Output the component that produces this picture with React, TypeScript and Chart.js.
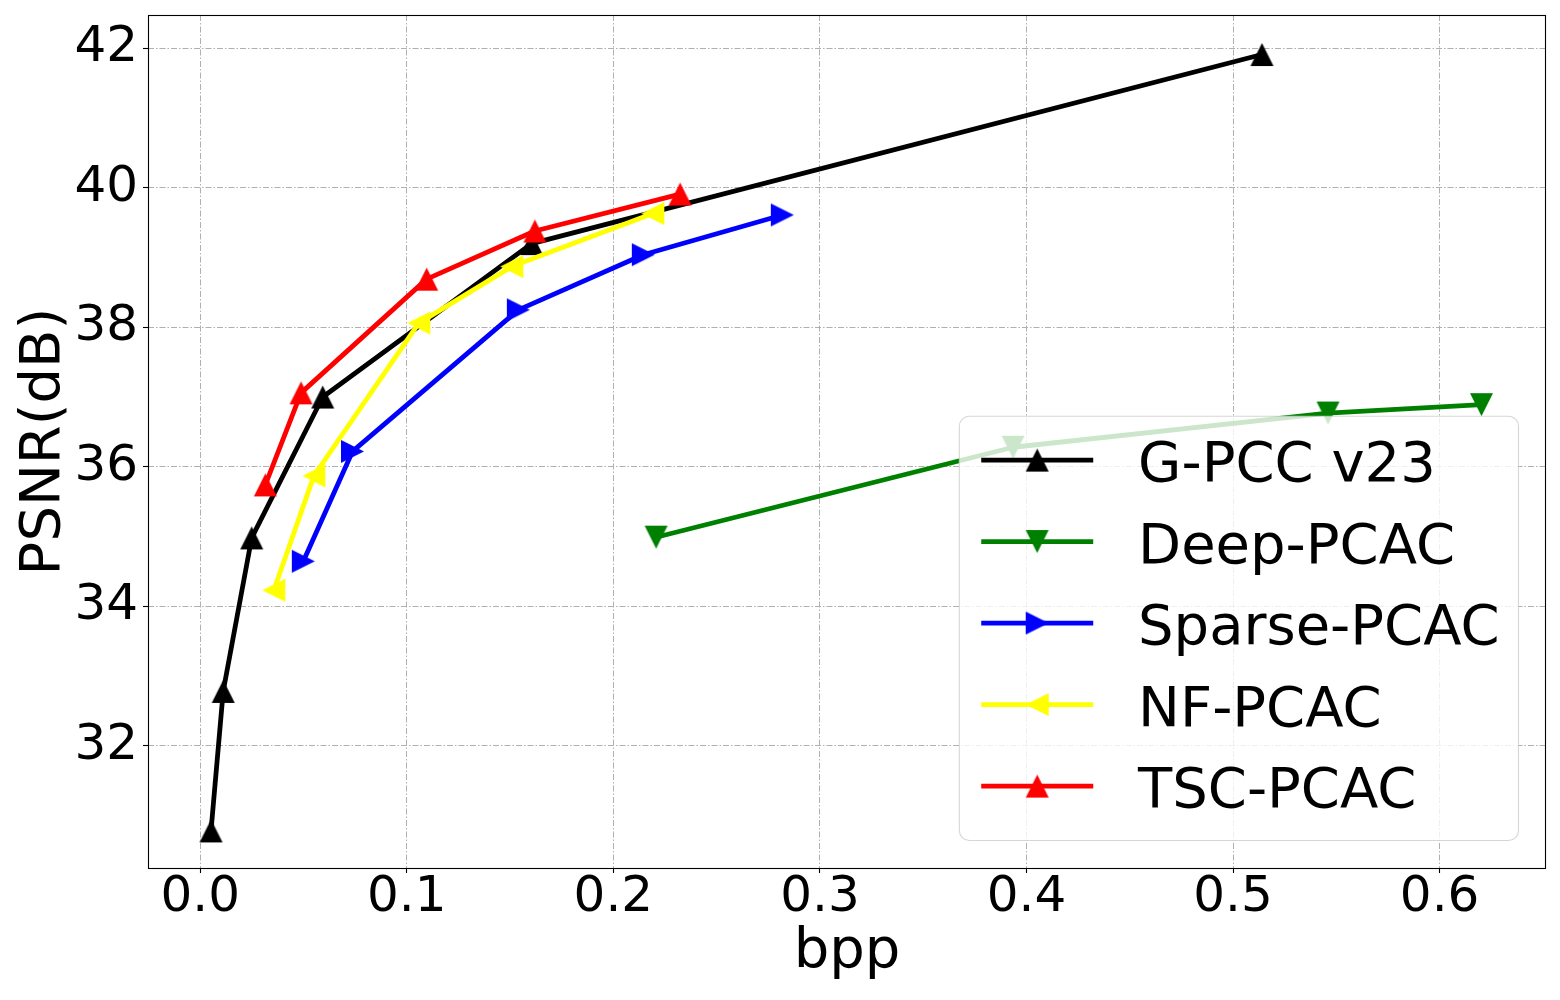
import React, { useEffect, useRef } from "react";
import { Chart, registerables } from "chart.js";

Chart.register(...registerables);

// ---- data ----
const SERIES_NAMES = ["G-PCC v23", "Deep-PCAC", "Sparse-PCAC", "NF-PCAC", "TSC-PCAC"];
const SERIES_COLORS = ["#000000", "#008000", "#0000ff", "#ffff00", "#ff0000"];
// marker rotation: ^ = 0, v = 180, > = 90, < = 270
const SERIES_MARKER_ROT = [0, 180, 90, 270, 0];

const GPCC_BPP = [0.0052, 0.0111, 0.0249, 0.0593, 0.1604, 0.514];
const GPCC_PSNR = [30.78, 32.78, 34.98, 37.0, 39.2, 41.91];
const DEEP_BPP = [0.2207, 0.3935, 0.546, 0.6203];
const DEEP_PSNR = [34.99, 36.28, 36.77, 36.89];
const SPARSE_BPP = [0.0499, 0.0737, 0.154, 0.2145, 0.2818];
const SPARSE_PSNR = [34.645, 36.22, 38.25, 39.04, 39.61];
const NF_BPP = [0.0356, 0.055, 0.1058, 0.1508, 0.2191];
const NF_PSNR = [34.23, 35.87, 38.06, 38.87, 39.63];
const TSC_BPP = [0.0315, 0.0488, 0.1096, 0.162, 0.2323];
const TSC_PSNR = [35.74, 37.06, 38.69, 39.38, 39.91];

const SERIES_X = [GPCC_BPP, DEEP_BPP, SPARSE_BPP, NF_BPP, TSC_BPP];
const SERIES_Y = [GPCC_PSNR, DEEP_PSNR, SPARSE_PSNR, NF_PSNR, TSC_PSNR];

const X_TICKS = [0.0, 0.1, 0.2, 0.3, 0.4, 0.5, 0.6];
const Y_TICKS = [32, 34, 36, 38, 40, 42];
const X_MIN = -0.0253;
const X_MAX = 0.6515;
const Y_MIN = 30.248;
const Y_MAX = 42.477;

const X_TITLE = "bpp";
const Y_TITLE = "PSNR(dB)";

const FONT = '"DejaVu Sans", "Liberation Sans", sans-serif';
const LINE_W = 4.8;

function makeTriangle(color: string): HTMLCanvasElement {
  const c = document.createElement("canvas");
  c.width = 25;
  c.height = 25;
  const g = c.getContext("2d")!;
  g.fillStyle = color;
  g.beginPath();
  g.moveTo(12.5, 1);
  g.lineTo(24, 24);
  g.lineTo(1, 24);
  g.closePath();
  g.fill();
  return c;
}

function zeroPadding(s: any) {
  s.paddingTop = 0;
  s.paddingBottom = 0;
  s.paddingLeft = 0;
  s.paddingRight = 0;
}

export default function App() {
  const ref = useRef<HTMLCanvasElement>(null);

  useEffect(() => {
    if (!ref.current) return;
    const markers = SERIES_COLORS.map((c) => makeTriangle(c));

    const datasets = SERIES_NAMES.map((name, i) => ({
      label: name,
      data: SERIES_X[i].map((x, j) => ({ x, y: SERIES_Y[i][j] })),
      borderColor: SERIES_COLORS[i],
      backgroundColor: SERIES_COLORS[i],
      borderWidth: LINE_W,
      borderJoinStyle: "round" as const,
      pointStyle: markers[i],
      pointRotation: SERIES_MARKER_ROT[i],
      pointRadius: 12,
      pointHoverRadius: 12,
      tension: 0,
      fill: false,
      order: SERIES_NAMES.length - 1 - i,
    }));

    const framePlugin = {
      id: "frame",
      afterDatasetsDraw(chart: any) {
        const { ctx, chartArea: a } = chart;
        ctx.save();
        ctx.strokeStyle = "#000";
        ctx.lineWidth = 1.1;
        const l = Math.floor(a.left) + 0.5;
        const t = Math.floor(a.top) + 0.5;
        const r = Math.floor(a.right) - 0.5;
        const b = Math.floor(a.bottom) + 0.5;
        ctx.strokeRect(l, t, r - l, b - t);
        ctx.restore();
      },
    };

    const legendPlugin = {
      id: "mplLegend",
      afterDraw(chart: any) {
        const { ctx, chartArea: a } = chart;
        const fs = 56;
        const pad = 0.4 * fs;
        const handleLen = 2 * fs;
        const textPad = 0.8 * fs;
        const rowH = 53.5;
        const spacing = 0.5 * fs;
        const axPad = 0.5 * fs;
        const n = SERIES_NAMES.length;
        ctx.save();
        ctx.font = `${fs}px ${FONT}`;
        const textW = Math.max(...SERIES_NAMES.map((s) => ctx.measureText(s).width));
        const w = pad * 2 + handleLen + textPad + textW - 4;
        const h = pad * 2 + rowH * n + spacing * (n - 1);
        const right = a.right - axPad;
        const bottom = a.bottom - axPad;
        const left = right - w;
        const top = bottom - h;
        ctx.beginPath();
        (ctx as any).roundRect(left + 0.5, top + 0.5, w, h, 10);
        ctx.fillStyle = "rgba(255,255,255,0.8)";
        ctx.fill();
        ctx.lineWidth = 1.1;
        ctx.strokeStyle = "rgba(204,204,204,0.8)";
        ctx.stroke();
        for (let i = 0; i < n; i++) {
          const y = top + pad + 22 + i * (rowH + spacing);
          const x0 = left + pad;
          ctx.strokeStyle = SERIES_COLORS[i];
          ctx.lineWidth = LINE_W;
          ctx.lineCap = "butt";
          ctx.beginPath();
          ctx.moveTo(x0, y);
          ctx.lineTo(x0 + handleLen, y);
          ctx.stroke();
          const m = markers[i];
          ctx.save();
          ctx.translate(x0 + handleLen / 2, y);
          ctx.rotate((SERIES_MARKER_ROT[i] * Math.PI) / 180);
          ctx.drawImage(m, -m.width / 2, -m.height / 2);
          ctx.restore();
          ctx.fillStyle = "#000";
          ctx.textBaseline = "alphabetic";
          ctx.textAlign = "left";
          ctx.fillText(SERIES_NAMES[i], x0 + handleLen + textPad, y + 21);
        }
        ctx.restore();
      },
    };

    const gridCommon = {
      color: "#b0b0b0",
      lineWidth: 1,
      drawTicks: true,
      tickLength: 5,
      tickColor: "#000",
      tickWidth: 1.1,
      tickBorderDash: [],
    };
    const borderCommon = { display: false, dash: [6, 2, 1.5, 2], dashOffset: 0 };

    const chart = new Chart(ref.current, {
      type: "line",
      data: { datasets: datasets as any },
      options: {
        responsive: false,
        animation: false,
        events: [],
        layout: { padding: { left: 0, top: 15, right: 14, bottom: 0 }, autoPadding: false },
        plugins: {
          legend: { display: false },
          tooltip: { enabled: false },
        },
        scales: {
          x: {
            type: "linear",
            min: X_MIN,
            max: X_MAX,
            afterBuildTicks: (s: any) => {
              s.ticks = X_TICKS.map((v) => ({ value: v }));
            },
            afterFit: (s: any) => {
              s.height = 132;
              zeroPadding(s);
            },
            grid: gridCommon as any,
            border: borderCommon as any,
            ticks: {
              color: "#000",
              font: { family: FONT, size: 50, lineHeight: 1 },
              padding: 0,
              maxRotation: 0,
              autoSkip: false,
              callback: (v: any) => Number(v).toFixed(1),
            },
            title: {
              display: true,
              text: X_TITLE,
              color: "#000",
              font: { family: FONT, size: 56, lineHeight: 1.2 },
              padding: { top: 0, bottom: 14 },
            },
          },
          y: {
            type: "linear",
            min: Y_MIN,
            max: Y_MAX,
            afterBuildTicks: (s: any) => {
              s.ticks = Y_TICKS.map((v) => ({ value: v }));
            },
            afterFit: (s: any) => {
              s.width = 148;
              zeroPadding(s);
            },
            grid: gridCommon as any,
            border: borderCommon as any,
            ticks: {
              color: "#000",
              font: { family: FONT, size: 50, lineHeight: 1 },
              padding: 5,
              autoSkip: false,
              callback: (v: any) => String(Math.round(Number(v))),
            },
            title: {
              display: true,
              text: Y_TITLE,
              color: "#000",
              font: { family: FONT, size: 56, lineHeight: 1.2 },
              padding: { top: 10.5, bottom: 0 },
            },
          },
        },
      },
      plugins: [framePlugin, legendPlugin],
    } as any);

    return () => chart.destroy();
  }, []);

  return (
    <div style={{ position: "fixed", left: 0, top: 0, width: 1560, height: 1000, background: "#fff" }}>
      <canvas ref={ref} width={1560} height={1000} style={{ width: 1560, height: 1000, display: "block" }} />
    </div>
  );
}
